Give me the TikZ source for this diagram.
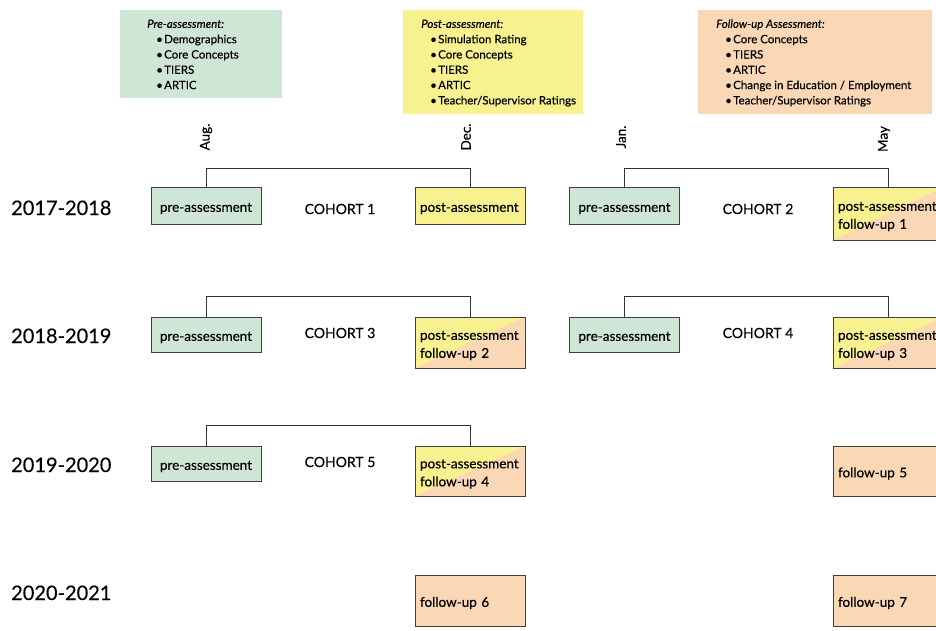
\documentclass[tikz,border=0pt]{standalone}
\usepackage{fontspec}
\setmainfont{Lato}[FakeBold=0.3]
\definecolor{cgreen}{HTML}{CFE6D6}
\definecolor{cyellow}{HTML}{F7F18F}
\definecolor{corange}{HTML}{FBD8B5}
\newcommand{\bul}[1]{\hspace*{9pt}\makebox[8pt][l]{\textbullet}#1}
\begin{document}
\begin{tikzpicture}[x=1pt,y=-1pt,
  every node/.style={text=black},
  boxtxt/.style={font=\fontsize{13.5}{18}\selectfont},
  box/.style={boxtxt, draw=black!75, line width=0.9pt, inner xsep=5pt, inner ysep=0pt, text width=100pt, align=left,
    execute at begin node={\rule{0pt}{15pt}}},
  prebox/.style={box, fill=cgreen, align=center, minimum height=#1},
  postbox/.style={box, fill=cyellow, minimum height=#1},
  fubox/.style={box, fill=corange, minimum height=#1},
  splitbox/.style={box, fill=corange, minimum height=#1,
    path picture={\fill[cyellow] (path picture bounding box.north west) -- (path picture bounding box.north east) -- (path picture bounding box.south west) -- cycle;}},
  bracket/.style={draw=black!80, line width=0.8pt},
  cohort/.style={font=\fontsize{14}{16}\selectfont},
  year/.style={font=\fontsize{20}{22}\selectfont, anchor=base west, inner sep=0pt},
  month/.style={font=\fontsize{13.5}{15}\selectfont, rotate=90},
  infobox/.style={anchor=north west, inner sep=0pt},
  infotxt/.style={anchor=north west, inner sep=0pt, align=left, font=\fontsize{11.5}{15.3}\selectfont}
]
\useasboundingbox (0,0) rectangle (936,631);
\clip (0,0) rectangle (936,631);

% info boxes
\node[infobox, fill=cgreen, minimum width=162pt, minimum height=88pt] (gbox) at (120,10) {};
\node[infotxt] (gtext) at (147,17) {\strut\textit{Pre-assessment:}\\ \bul{Demographics}\\ \bul{Core Concepts}\\ \bul{TIERS}\\ \bul{ARTIC}};
\node[infobox, fill=cyellow, minimum width=180pt, minimum height=104pt] (ybox) at (403,10) {};
\node[infotxt] (ytext) at (421,17) {\strut\textit{Post-assessment:}\\ \bul{Simulation Rating}\\ \bul{Core Concepts}\\ \bul{TIERS}\\ \bul{ARTIC}\\ \bul{Teacher/Supervisor Ratings}};
\node[infobox, fill=corange, minimum width=234pt, minimum height=104pt] (obox) at (698,10) {};
\node[infotxt] (otext) at (716,17) {\strut\textit{Follow-up Assessment:}\\ \bul{Core Concepts}\\ \bul{TIERS}\\ \bul{ARTIC}\\ \bul{Change in Education / Employment}\\ \bul{Teacher/Supervisor Ratings}};

% months
\node[month] (aug) at (206,137) {Aug.};
\node[month] (dec) at (466,137) {Dec.};
\node[month] (jan) at (621,137) {Jan.};
\node[month] (may) at (884,139) {May};

% years
\node[year] (y1) at (11,215) {2017-2018};
\node[year] (y2) at (11,343) {2018-2019};
\node[year] (y3) at (11,472) {2019-2020};
\node[year] (y4) at (11,600) {2020-2021};

% row 1
\node[prebox=37pt] (pre1) at (206,205.5) {pre-assessment};
\node[postbox=37pt] (post1) at (470,205.5) {post-assessment};
\node[prebox=37pt] (pre2) at (624.5,205.5) {pre-assessment};
\node[splitbox=53pt] (pf1) at (888,213.5) {post-assessment\\follow-up 1};
\node[cohort] (c1) at (340,209) {COHORT 1};
\node[cohort] (c2) at (758,209) {COHORT 2};
\draw[bracket] (pre1.north) -- ++(0,-18) -| (post1.north);
\draw[bracket] (pre2.north) -- ++(0,-18) -| (pf1.north);

% row 2
\node[prebox=35pt] (pre3) at (206,334.5) {pre-assessment};
\node[splitbox=51pt] (pf2) at (470,342.5) {post-assessment\\follow-up 2};
\node[prebox=35pt] (pre4) at (624.5,334.5) {pre-assessment};
\node[splitbox=51pt] (pf3) at (888,342.5) {post-assessment\\follow-up 3};
\node[cohort] (c3) at (340,333) {COHORT 3};
\node[cohort] (c4) at (758,333) {COHORT 4};
\draw[bracket] (pre3.north) -- ++(0,-20) -| (pf2.north);
\draw[bracket] (pre4.north) -- ++(0,-20) -| (pf3.north);

% row 3
\node[prebox=35pt] (pre5) at (206,463.5) {pre-assessment};
\node[splitbox=50pt] (pf4) at (470,471) {post-assessment\\follow-up 4};
\node[fubox=50pt] (fu5) at (888,471) {follow-up 5};
\node[cohort] (c5) at (340,462) {COHORT 5};
\draw[bracket] (pre5.north) -- ++(0,-20) -| (pf4.north);

% row 4
\node[fubox=51pt] (fu6) at (470,600.5) {follow-up 6};
\node[fubox=51pt] (fu7) at (888,600.5) {follow-up 7};
\end{tikzpicture}
\end{document}
